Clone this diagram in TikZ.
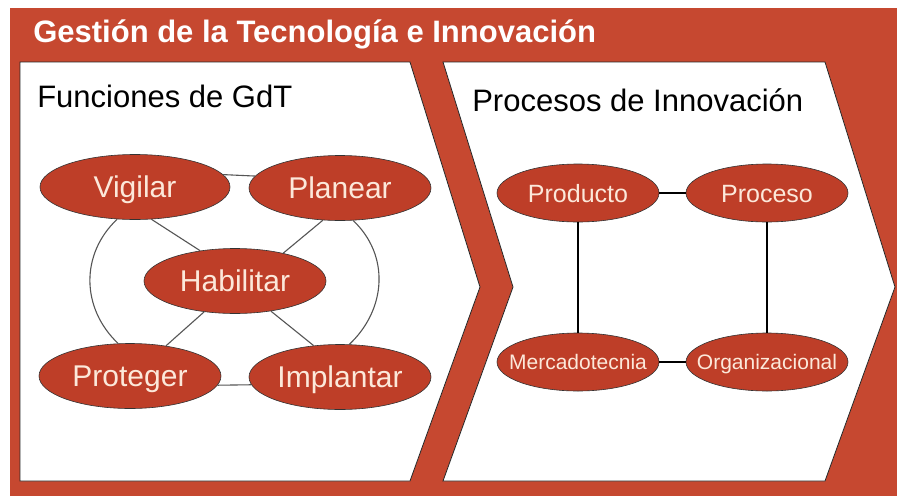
\documentclass[tikz,border=0pt]{standalone}
\usepackage{fontspec}
\setmainfont{Liberation Sans}
\usepackage{tikz}
\usepackage{xcolor}
\usetikzlibrary{shapes.geometric}
\definecolor{gdtred}{RGB}{198,72,48}
\definecolor{bubred}{RGB}{190,62,40}
\definecolor{bubtext}{RGB}{252,232,218}
\definecolor{linkgray}{RGB}{85,85,85}

\begin{document}
\begin{tikzpicture}[x=1pt, y=-1pt, semithick,
	bub/.style={ellipse, draw=black!80, fill=bubred, inner sep=0pt, minimum width=182pt, minimum height=65pt},
	smallbub/.style={bub, minimum width=162pt, minimum height=58pt},
	btxt/.style={text=bubtext, inner sep=0pt, font=\fontsize{30}{30}\selectfont, text height=21.5pt, text depth=0pt},
	mtxt/.style={btxt, font=\fontsize{25}{25}\selectfont, text height=18pt},
	stxt/.style={btxt, font=\fontsize{21}{21}\selectfont, text height=15pt},
	head/.style={anchor=base west, inner sep=0pt, font=\fontsize{31}{31}\selectfont},
	thinlink/.style={draw=linkgray, line width=1.1pt},
	boldlink/.style={draw=black, line width=2.8pt}]
		\useasboundingbox (0,0) rectangle (897,496);
		\fill[white] (0,0) rectangle (897,496);
		\fill[gdtred] (10,8) rectangle (897,496);
		\draw[draw=black!85, fill=white, line width=0.8pt] (20,62) -- (410,62) -- (480,287) -- (410,481) -- (20,481) -- cycle;
		\draw[draw=black!85, fill=white, line width=0.8pt] (443,62) -- (825,62) -- (895,287) -- (825,481) -- (443,481) -- (513,287) -- cycle;
		\node [head, text=white, font=\bfseries\fontsize{31}{31}\selectfont] (title) at (33,42) {Gestión de la Tecnología e Innovación};
		\node [head] (gdt) at (37,107) {Funciones de GdT};
		\node [head] (inno) at (472,111) {Procesos de Innovación};
		\node [bub, minimum width=190pt, label={[btxt]center:Vigilar}] (vig) at (135,187) {};
		\node [bub, label={[btxt]center:Planear}] (pla) at (340,188) {};
		\node [bub, label={[btxt]center:Habilitar}] (hab) at (235,281) {};
		\node [bub, label={[btxt]center:Proteger}] (pro) at (130,376) {};
		\node [bub, label={[btxt]center:Implantar}] (imp) at (340,377) {};
		\draw [thinlink] (vig.8) to (pla.172);
		\draw [thinlink] (pro.-6) to (imp.-175);
		\draw [thinlink] (vig.-63) to (hab.139);
		\draw [thinlink] (pla.-118) to (hab.30);
		\draw [thinlink] (hab.-135) to (pro.40);
		\draw [thinlink] (hab.-40) to (imp.130);
		\draw [thinlink] (vig.241) .. controls +(-37,35) and +(-37,-35) .. (pro.110);
		\draw [thinlink] (pla.-68) .. controls +(37,35) and +(37,-35) .. (imp.74);
		\node [smallbub, label={[mtxt]center:Producto}] (prd) at (578,193) {};
		\node [smallbub, label={[mtxt]center:Proceso}] (prc) at (767,193) {};
		\node [smallbub, label={[stxt]center:Mercadotecnia}] (mer) at (578,362) {};
		\node [smallbub, label={[stxt]center:Organizacional}] (org) at (767,362) {};
		\draw [boldlink] (prd.east) to (prc.west);
		\draw [boldlink] (mer.east) to (org.west);
		\draw [boldlink] (prd.south) to (mer.north);
		\draw [boldlink] (prc.south) to (org.north);
\end{tikzpicture}
\end{document}
